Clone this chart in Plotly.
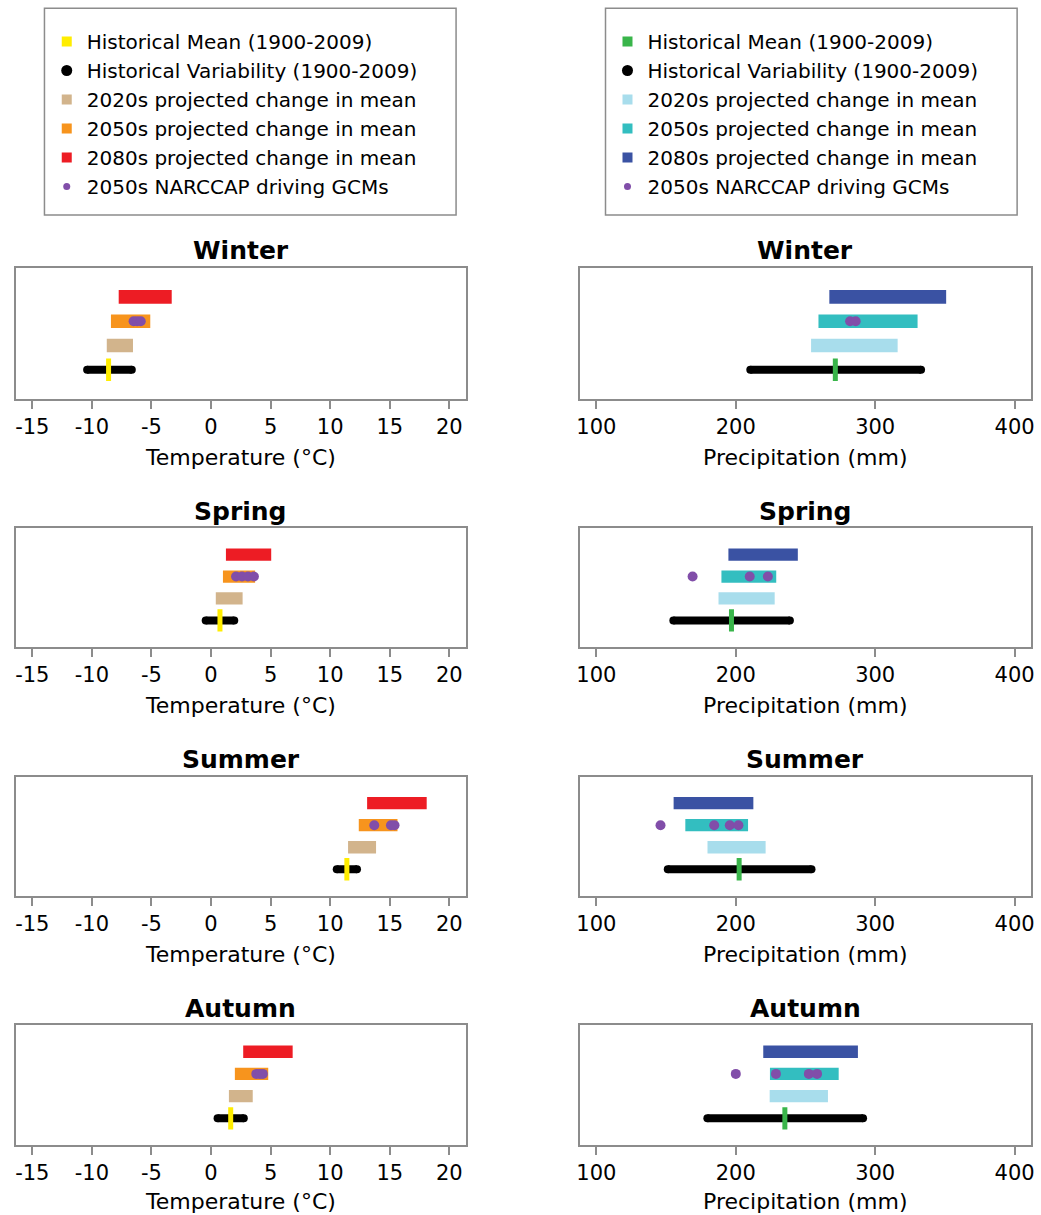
import plotly.graph_objects as go

W, H = 1041, 1215

# ---------------- data ----------------
seasons = ["Winter", "Spring", "Summer", "Autumn"]

# Temperature (°C)
temp_hist_mean = [-8.6, 0.75, 11.4, 1.65]
temp_var_low = [-10.4, -0.45, 10.55, 0.55]
temp_var_high = [-6.65, 1.95, 12.25, 2.75]
temp_2020s_low = [-8.75, 0.4, 11.5, 1.5]
temp_2020s_high = [-6.55, 2.65, 13.85, 3.5]
temp_2050s_low = [-8.4, 1.0, 12.4, 2.0]
temp_2050s_high = [-5.1, 3.7, 15.65, 4.8]
temp_2080s_low = [-7.75, 1.25, 13.1, 2.7]
temp_2080s_high = [-3.3, 5.05, 18.1, 6.85]
temp_gcm_2050s = [[-6.5, -6.2, -5.9], [2.1, 2.6, 3.1, 3.6], [13.7, 15.1, 15.4], [3.8, 4.1, 4.35]]

# Precipitation (mm)
pr_hist_mean = [271.4, 196.9, 202.4, 235.2]
pr_var_low = [210.4, 155.2, 151.2, 179.6]
pr_var_high = [332.9, 238.8, 254.3, 291.3]
pr_2020s_low = [254.0, 187.6, 179.7, 224.3]
pr_2020s_high = [316.1, 227.9, 221.4, 266.1]
pr_2050s_low = [259.3, 189.7, 163.8, 224.5]
pr_2050s_high = [330.4, 229.0, 208.8, 273.8]
pr_2080s_low = [267.1, 194.7, 155.4, 219.7]
pr_2080s_high = [350.9, 244.5, 212.6, 287.6]
pr_gcm_2050s = [[282, 286], [169, 210, 223], [146, 184.5, 195.7, 201.9], [200, 228.8, 252.4, 258.3]]

temp_ticks = [-15, -10, -5, 0, 5, 10, 15, 20]
temp_tick_labels = ["-15", "-10", "-5", "0", "5", "10", "15", "20"]
pr_ticks = [100, 200, 300, 400]
pr_tick_labels = ["100", "200", "300", "400"]

legend_left = ["Historical Mean (1900-2009)", "Historical Variability (1900-2009)",
               "2020s projected change in mean", "2050s projected change in mean",
               "2080s projected change in mean", "2050s NARCCAP driving GCMs"]
legend_right = legend_left

# ---------------- styles ----------------
FONT = "DejaVu Sans"
GRAY = "#8c8c8c"
PURPLE = "#814EA9"
temp_colors = {"mean": "#FFED00", "2020s": "#D2B48C", "2050s": "#F7941D", "2080s": "#ED1C24"}
pr_colors = {"mean": "#39B54A", "2020s": "#A8DDEC", "2050s": "#33BEC0", "2080s": "#3A52A3"}

left_dom = [12.7 / W, 465.7 / W]
right_dom = [580 / W, 1034.3 / W]
box_tops = [267.7, 528.3, 776.7, 1025]
box_bots = [399, 646.7, 895.7, 1145]

fig = go.Figure()


def add_panel(n, low_high, var, mean, gcm, colors):
    xa, ya = f"x{n}", f"y{n}"
    for key, (lo, hi), yv in zip(["2020s", "2050s", "2080s"], low_high, [2, 3, 4]):
        fig.add_trace(go.Bar(y=[yv], x=[hi - lo], base=[lo], orientation="h", width=0.56,
                             marker=dict(color=colors[key], line=dict(width=0)),
                             xaxis=xa, yaxis=ya, showlegend=False, hoverinfo="skip"))
    fig.add_trace(go.Scatter(x=[var[0], var[1]], y=[1, 1], mode="lines+markers",
                             line=dict(color="black", width=8),
                             marker=dict(size=8, color="black"),
                             xaxis=xa, yaxis=ya, showlegend=False, hoverinfo="skip"))
    fig.add_trace(go.Scatter(x=[mean], y=[1], mode="markers",
                             marker=dict(symbol="line-ns", size=16,
                                         line=dict(width=5, color=colors["mean"])),
                             xaxis=xa, yaxis=ya, showlegend=False, hoverinfo="skip"))
    fig.add_trace(go.Scatter(x=gcm, y=[3] * len(gcm), mode="markers",
                             marker=dict(size=10, color=PURPLE),
                             xaxis=xa, yaxis=ya, showlegend=False, hoverinfo="skip"))


layout_axes = {}
annotations = []
for i, season in enumerate(seasons):
    ydom = [1 - box_bots[i] / H, 1 - box_tops[i] / H]
    for side in range(2):
        n = 2 * i + 1 + side
        if side == 0:
            add_panel(n,
                      [(temp_2020s_low[i], temp_2020s_high[i]),
                       (temp_2050s_low[i], temp_2050s_high[i]),
                       (temp_2080s_low[i], temp_2080s_high[i])],
                      (temp_var_low[i], temp_var_high[i]), temp_hist_mean[i],
                      temp_gcm_2050s[i], temp_colors)
            xr, tv, tt, dom, xt = [-16.4, 21.4], temp_ticks, temp_tick_labels, left_dom, "Temperature (°C)"
        else:
            add_panel(n,
                      [(pr_2020s_low[i], pr_2020s_high[i]),
                       (pr_2050s_low[i], pr_2050s_high[i]),
                       (pr_2080s_low[i], pr_2080s_high[i])],
                      (pr_var_low[i], pr_var_high[i]), pr_hist_mean[i],
                      pr_gcm_2050s[i], pr_colors)
            xr, tv, tt, dom, xt = [88, 412], pr_ticks, pr_tick_labels, right_dom, "Precipitation (mm)"
        sfx = "" if n == 1 else str(n)
        layout_axes[f"xaxis{sfx}"] = dict(
            domain=dom, range=xr, anchor=f"y{n}", tickvals=tv, ticktext=tt, ticks="outside",
            ticklen=8, tickwidth=1.5, tickcolor=GRAY, showline=True, mirror=True,
            linecolor=GRAY, linewidth=2, showgrid=False, zeroline=False,
            tickfont=dict(family=FONT, size=21, color="black"), fixedrange=True)
        layout_axes[f"yaxis{sfx}"] = dict(
            domain=ydom, range=[-0.2, 5.2], anchor=f"x{n}", showticklabels=False,
            ticks="", showline=True, mirror=True, linecolor=GRAY, linewidth=2,
            showgrid=False, zeroline=False, fixedrange=True)
        cx = (dom[0] + dom[1]) / 2
        annotations.append(dict(text=f"<b>{season}</b>", x=cx, y=1 - (box_tops[i] - 17) / H,
                                xref="paper", yref="paper", showarrow=False,
                                xanchor="center", yanchor="middle",
                                font=dict(family=FONT, size=25, color="black")))
        annotations.append(dict(text=xt, x=cx, y=1 - min(box_bots[i] + 59, 1201) / H,
                                xref="paper", yref="paper", showarrow=False,
                                xanchor="center", yanchor="middle",
                                font=dict(family=FONT, size=22, color="black")))

# legend entries (legend-only traces)
sym = ["square", "circle", "square", "square", "square", "circle"]
sizes = [10, 11, 10, 10, 10, 7]
lc = [temp_colors["mean"], "black", temp_colors["2020s"], temp_colors["2050s"], temp_colors["2080s"], PURPLE]
rc = [pr_colors["mean"], "black", pr_colors["2020s"], pr_colors["2050s"], pr_colors["2080s"], PURPLE]
for name, s, sz, c in zip(legend_left, sym, sizes, lc):
    fig.add_trace(go.Scatter(x=[None], y=[None], mode="markers", name=name,
                             marker=dict(symbol=s, size=sz, color=c),
                             legend="legend", xaxis="x", yaxis="y"))
for name, s, sz, c in zip(legend_right, sym, sizes, rc):
    fig.add_trace(go.Scatter(x=[None], y=[None], mode="markers", name=name,
                             marker=dict(symbol=s, size=sz, color=c),
                             legend="legend2", xaxis="x2", yaxis="y2"))

leg_common = dict(bgcolor="rgba(0,0,0,0)", borderwidth=0, itemsizing="trace",
                  font=dict(family=FONT, size=20, color="black"),
                  xanchor="left", yanchor="top", traceorder="normal")

shapes = [
    dict(type="rect", xref="paper", yref="paper", x0=41.7 / W, x1=455.7 / W,
         y0=1 - 215 / H, y1=1 - 8.3 / H, line=dict(color=GRAY, width=1.5)),
    dict(type="rect", xref="paper", yref="paper", x0=606 / W, x1=1020 / W,
         y0=1 - 215 / H, y1=1 - 8.3 / H, line=dict(color=GRAY, width=1.5)),
]

fig.update_layout(
    width=W, height=H, margin=dict(l=0, r=0, t=0, b=0),
    paper_bgcolor="white", plot_bgcolor="white",
    barmode="overlay", showlegend=True,
    legend=dict(x=44 / W, y=1 - 22 / H, **leg_common),
    legend2=dict(x=608 / W, y=1 - 22 / H, **leg_common),
    annotations=annotations, shapes=shapes, **layout_axes,
)

fig.write_html("out.html", config={"displayModeBar": False},
               post_script="document.body.style.margin='0';document.body.style.overflow='hidden';")
